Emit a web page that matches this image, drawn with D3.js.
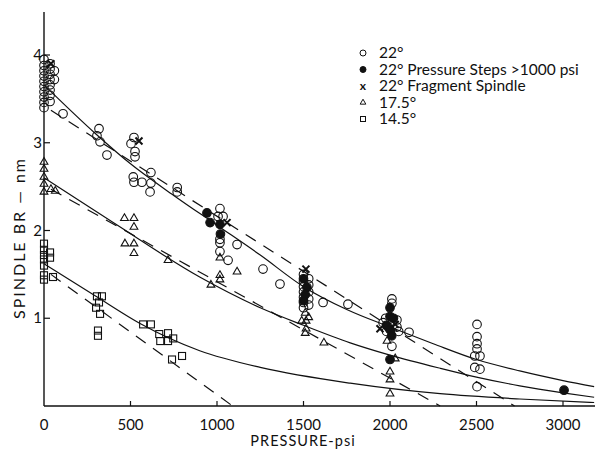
<!DOCTYPE html>
<html>
<head>
<meta charset="utf-8">
<script src="https://cdn.jsdelivr.net/npm/d3@7/dist/d3.min.js"></script>
<style>
    body { margin: 0; background: #fff; }
    text { font-family: Lato, "DejaVu Sans", sans-serif; fill: #111; }
</style>
</head>
<body>
<div id="chart"></div>
<script>
// ticks
const pressureTicks = [0, 500, 1000, 1500, 2000, 2500, 3000];
const brTicks = [1, 2, 3, 4];

// 22 deg, open circles [psi, nm]
const open22 = [
    [0,3.95],[0,3.88],[0,3.82],[0,3.76],[0,3.7],[0,3.64],[0,3.58],[0,3.52],[0,3.46],[0,3.4],
    [35,3.9],[35,3.84],[35,3.78],[35,3.72],[35,3.66],[35,3.6],[35,3.54],[35,3.47],[60,3.82],[60,3.72],
    [110,3.33],
    [318,3.16],[306,3.08],[324,3.01],[364,2.86],
    [520,3.06],[503,2.99],[526,2.9],[526,2.84],[516,2.61],[520,2.55],[566,2.55],[618,2.66],[618,2.54],[613,2.44],[770,2.49],[770,2.44],
    [1017,2.25],[1006,2.16],[1035,2.16],[1017,1.9],[1017,1.86],[1017,1.76],[1064,1.66],[1116,1.84],[1266,1.56],
    [1364,1.39],[1500,1.5],[1500,1.42],[1500,1.36],[1500,1.3],[1500,1.24],[1500,1.18],[1500,1.12],
    [1530,1.45],[1530,1.38],[1530,1.3],[1530,1.22],[1530,1.15],[1613,1.18],[1757,1.16],
    [2011,1.22],[2011,1.17],[1960,0.95],[1975,1.0],[1990,0.9],[2040,0.98],[2040,0.9],[2050,0.85],[1980,0.85],[2110,0.84],[2011,0.68],
    [2503,0.93],[2503,0.79],[2503,0.71],[2503,0.65],[2490,0.57],[2520,0.57],[2490,0.44],[2520,0.42],[2503,0.22]
];

// 22 deg, pressure steps > 1000 psi (filled)
const steps22 = [
    [942,2.2],[960,2.09],[1017,2.07],[1020,1.96],
    [1500,1.45],[1520,1.35],[1510,1.27],[1500,1.2],
    [1980,0.92],[2000,1.02],[2020,1.0],[2000,0.87],[2010,0.8],[2000,1.12],[2000,0.53],
    [3006,0.18]
];

// 22 deg, fragment spindle (x)
const frag22 = [[40,3.9],[549,3.02],[1058,2.09],[1514,1.56],[1942,0.88],[2030,0.93]];

// 17.5 deg (triangles)
const tri175 = [
    [0,2.78],[0,2.7],[0,2.61],[0,2.53],[0,2.44],[40,2.47],[65,2.45],
    [465,2.14],[520,2.14],[520,2.04],[468,1.85],[520,1.85],[520,1.74],[717,1.66],
    [1017,1.69],[1116,1.53],[1017,1.49],[1017,1.44],[965,1.38],
    [1510,1.06],[1530,1.01],[1490,0.97],[1515,0.97],[1515,0.88],[1510,0.83],[1618,0.72],
    [1983,0.74],[2030,0.54],[2000,0.39],[2000,0.3],[2000,0.14]
];

// 14.5 deg (squares)
const sq145 = [
    [0,1.85],[0,1.78],[0,1.72],[0,1.67],[0,1.6],[0,1.49],[0,1.44],[35,1.75],[35,1.69],[52,1.47],
    [306,1.25],[335,1.25],[318,1.18],[301,1.12],[324,1.05],[312,0.86],[312,0.8],
    [573,0.93],[618,0.93],[666,0.82],[672,0.74],[717,0.83],[717,0.74],[747,0.77],[740,0.53],[798,0.57]
];

// fitted curves (solid)
const fit22 = [[0,3.66],[300,3.1],[500,2.76],[750,2.4],[1000,2.06],[1250,1.72],[1500,1.36],[1750,1.1],[2000,0.9],[2250,0.71],[2500,0.53],[2750,0.4],[3000,0.29],[3180,0.22]];
const fit175 = [[0,2.6],[400,2.09],[900,1.47],[1250,1.12],[1500,0.92],[1770,0.72],[2000,0.58],[2290,0.43],[2500,0.33],[2750,0.23],[3000,0.15],[3180,0.1]];
const fit145 = [[0,1.62],[300,1.25],[555,0.94],[900,0.63],[1250,0.44],[1770,0.26],[2290,0.14],[2750,0.08],[3180,0.04]];

// straight (dashed) lines
const lin22 = [[40,3.37],[2720,0]];
const lin175 = [[40,2.47],[2290,0]];
const lin145 = [[40,1.5],[1090,0]];

const legendItems = [
    {sym: 'open', label: '22°'},
    {sym: 'filled', label: '22° Pressure Steps >1000 psi'},
    {sym: 'cross', label: '22° Fragment Spindle'},
    {sym: 'tri', label: '17.5°'},
    {sym: 'sq', label: '14.5°'}
];

let width = 606, height = 455;

let svg = d3.select('#chart')
    .append('svg')
        .attr('width', width)
        .attr('height', height);

let x = d3.scaleLinear().domain([0, 3000]).range([44, 563]);
let y = d3.scaleLinear().domain([0, 4]).range([406, 55]);

// axes lines
svg.append('line')
    .attr('x1', x(0)).attr('x2', x(3185))
    .attr('y1', y(0)).attr('y2', y(0))
    .attr('stroke', '#111').attr('stroke-width', 1.4);
svg.append('line')
    .attr('x1', x(0)).attr('x2', x(0))
    .attr('y1', y(0)).attr('y2', 12)
    .attr('stroke', '#111').attr('stroke-width', 1.4);

// x ticks
svg.append('g').selectAll('line')
    .data(pressureTicks.filter(d => d > 0))
    .enter().append('line')
        .attr('x1', d => x(d)).attr('x2', d => x(d))
        .attr('y1', y(0)).attr('y2', y(0) - 5)
        .attr('stroke', '#111').attr('stroke-width', 1.2);
svg.append('g').selectAll('text')
    .data(pressureTicks)
    .enter().append('text')
        .attr('x', d => x(d))
        .attr('y', 430)
        .attr('text-anchor', 'middle')
        .style('font-size', '15px')
        .text(d => d);

// y ticks
svg.append('g').selectAll('line')
    .data(brTicks)
    .enter().append('line')
        .attr('x1', x(0)).attr('x2', x(0) + 6)
        .attr('y1', d => y(d)).attr('y2', d => y(d))
        .attr('stroke', '#111').attr('stroke-width', 1.2);
svg.append('g').selectAll('text')
    .data(brTicks)
    .enter().append('text')
        .attr('x', 42)
        .attr('y', d => y(d) + 5)
        .attr('text-anchor', 'end')
        .style('font-size', '15px')
        .text(d => d);

// axis titles
svg.append('text')
    .attr('x', 303).attr('y', 446)
    .attr('text-anchor', 'middle')
    .style('font-size', '14.5px')
    .style('letter-spacing', '1px')
    .text('PRESSURE-psi');
svg.append('text')
    .attr('transform', 'translate(25,238)rotate(-90)')
    .attr('text-anchor', 'middle')
    .style('font-size', '16px')
    .style('letter-spacing', '2px')
    .text('SPINDLE  BR — nm');

// curves
let curve = d3.line().x(d => x(d[0])).y(d => y(d[1])).curve(d3.curveMonotoneX);
[fit22, fit175, fit145].forEach(c => {
    svg.append('path')
        .attr('d', curve(c))
        .attr('fill', 'none')
        .attr('stroke', '#111')
        .attr('stroke-width', 1.2);
});
let straight = d3.line().x(d => x(d[0])).y(d => y(d[1]));
[lin22, lin175, lin145].forEach(c => {
    svg.append('path')
        .attr('d', straight(c))
        .attr('fill', 'none')
        .attr('stroke', '#111')
        .attr('stroke-width', 1.2)
        .attr('stroke-dasharray', '12,9');
});

// markers
const drawSymbol = (g, sym, px, py) => {
    if (sym === 'open' || sym === 'filled') {
        g.append('circle')
            .attr('cx', px).attr('cy', py).attr('r', 4.3)
            .attr('fill', sym === 'filled' ? '#111' : 'none')
            .attr('stroke', '#111').attr('stroke-width', 1.1);
    } else if (sym === 'tri') {
        g.append('path')
            .attr('transform', `translate(${px},${py})`)
            .attr('d', d3.symbol(d3.symbolTriangle, 26)())
            .attr('fill', 'none').attr('stroke', '#111').attr('stroke-width', 1.1);
    } else if (sym === 'sq') {
        g.append('rect')
            .attr('x', px - 3.5).attr('y', py - 3.5)
            .attr('width', 7).attr('height', 7)
            .attr('fill', 'none').attr('stroke', '#111').attr('stroke-width', 1.1);
    } else {
        g.append('path')
            .attr('d', `M${px-3.5},${py-3.5}L${px+3.5},${py+3.5}M${px-3.5},${py+3.5}L${px+3.5},${py-3.5}`)
            .attr('stroke', '#111').attr('stroke-width', 2);
    }
};

let pts = svg.append('g');
sq145.forEach(d => drawSymbol(pts, 'sq', x(d[0]), y(d[1])));
tri175.forEach(d => drawSymbol(pts, 'tri', x(d[0]), y(d[1])));
open22.forEach(d => drawSymbol(pts, 'open', x(d[0]), y(d[1])));
steps22.forEach(d => drawSymbol(pts, 'filled', x(d[0]), y(d[1])));
frag22.forEach(d => drawSymbol(pts, 'cross', x(d[0]), y(d[1])));

// legend
let legend = svg.append('g');
legendItems.forEach((item, i) => {
    let ly = 53 + i * 16.5;
    let lg = legend.append('g');
    if (item.sym === 'open' || item.sym === 'filled') {
        lg.append('circle')
            .attr('cx', 363).attr('cy', ly).attr('r', 3)
            .attr('fill', item.sym === 'filled' ? '#111' : 'none')
            .attr('stroke', '#111').attr('stroke-width', 1);
    } else if (item.sym === 'tri') {
        lg.append('path')
            .attr('transform', `translate(363,${ly})`)
            .attr('d', d3.symbol(d3.symbolTriangle, 14)())
            .attr('fill', 'none').attr('stroke', '#111').attr('stroke-width', 1);
    } else if (item.sym === 'sq') {
        lg.append('rect')
            .attr('x', 360.5).attr('y', ly - 2.5).attr('width', 5).attr('height', 5)
            .attr('fill', 'none').attr('stroke', '#111').attr('stroke-width', 1);
    } else {
        lg.append('text')
            .attr('x', 363).attr('y', ly + 4)
            .attr('text-anchor', 'middle')
            .style('font-size', '12px').style('font-weight', 'bold')
            .text('x');
    }
    lg.append('text')
        .attr('x', 379).attr('y', ly + 5)
        .style('font-size', '15.5px')
        .text(item.label);
});
</script>
</body>
</html>
